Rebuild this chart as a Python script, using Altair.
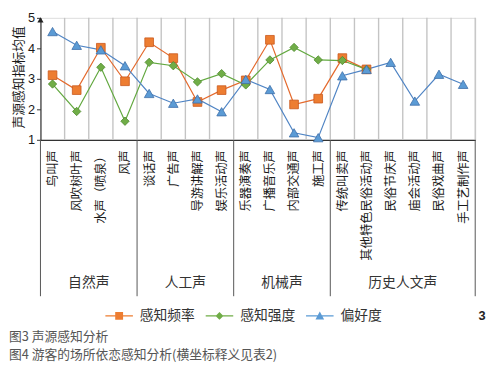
import json
import pandas as pd
import altair as alt

cats = ["鸟叫声", "风吹树叶声", "水声（喷泉）", "风声",
        "谈话声", "广告声", "导游讲解声", "娱乐活动声",
        "乐器演奏声", "广播音乐声", "内部交通声", "施工声",
        "传统叫卖声", "其他特色民俗活动声", "民俗节庆声", "庙会活动声", "民俗戏曲声", "手工艺制作声"]
freq = [3.12, 2.63, 4.02, 2.92, 4.20, 3.68, 2.24, 2.63, 2.95, 4.28, 2.16, 2.35, 3.68, 3.31,
        None, None, None, None]
strength = [2.83, 1.93, 3.38, 1.61, 3.54, 3.43, 2.90, 3.17, 2.80, 3.62, 4.03, 3.62, 3.60, 3.31,
            None, None, None, None]
pref = [4.55, 4.10, 3.95, 3.43, 2.52, 2.20, 2.34, 1.92, 2.98, 2.65, 1.23, 1.07, 3.10, 3.31,
        3.54, 2.27, 3.15, 2.82]
series = ["感知频率", "感知强度", "偏好度"]
groups = ["自然声", "人工声", "机械声", "历史人文声"]
group_sizes = [4, 4, 4, 6]
y_ticks = [1, 2, 3, 4, 5]
y_title = "声源感知指标均值"
captions = ["图3  声源感知分析", "图4  游客的场所依恋感知分析(横坐标释义见表2)"]
page_no = "3"

FONT_CJK = "Noto Sans CJK SC"
line_colors = ["#E4692C", "#62A83F", "#4F84C4"]
fill_colors = ["#ED7D31", "#70AD47", "#5B9BD5"]
edge_colors = ["#C9581C", "#4E8A2E", "#3F6FA8"]
shapes = ["square", "diamond", "triangle-up"]
sizes = [78, 72, 95]
legend_paths = [
    "M-1.75,-0.09H1.75V0.09H-1.75Z M-0.5,-0.5H0.5V0.5H-0.5Z",
    "M-1.75,-0.09H1.75V0.09H-1.75Z M0,-0.5L0.5,0L0,0.5L-0.5,0Z",
    "M-1.75,-0.09H1.75V0.09H-1.75Z M0,-0.55L0.55,0.45L-0.55,0.45Z",
]

# long data
rows = []
for name, vals in zip(series, [freq, strength, pref]):
    for i, v in enumerate(vals):
        if v is not None:
            rows.append({"series": name, "x": i + 0.5, "y": v, "cat": cats[i]})
df = pd.DataFrame(rows)

n = len(cats)
bounds = [0]
for s in group_sizes:
    bounds.append(bounds[-1] + s)
centers = [(bounds[k] + bounds[k + 1]) / 2 for k in range(len(groups))]

xscale = alt.Scale(domain=[0, n], nice=False, zero=False)
yscale = alt.Scale(domain=[1, 5], nice=False, zero=False)
label_expr = json.dumps(cats, ensure_ascii=False) + "[floor(datum.value)]"
xaxis = alt.Axis(values=[i + 0.5 for i in range(n)], labelExpr=label_expr, labelAngle=-90,
                 labelPadding=10, ticks=False, grid=False, title=None,
                 labelFont=FONT_CJK, labelFontSize=12.5, labelColor="#1a1a1a",
                 labelOverlap=False, labelFlush=False, labelBound=False,
                 domainColor="#333333", domainWidth=1.2, labelLimit=300)
yaxis = alt.Axis(values=y_ticks, grid=False, title=y_title, titleFont=FONT_CJK,
                 titleFontSize=13, titleFontWeight="normal", titleColor="#1a1a1a",
                 titleX=-22, titleY=60, titleBaseline="middle", titleAngle=-90,
                 labelFont="Liberation Sans", labelFontSize=13, labelColor="#1a1a1a",
                 tickSize=4, tickColor="#333333", labelPadding=2,
                 domainColor="#333333", domainWidth=1.2, labelFlush=False)

X = alt.X("x:Q", scale=xscale, axis=xaxis)
Y = alt.Y("y:Q", scale=yscale, axis=yaxis)

grid_df = pd.DataFrame({"x": list(range(1, n + 1)), "y": [1] * n, "y2": [5] * n})
grid = alt.Chart(grid_df).mark_rule(color="#c4c4c4", strokeWidth=1.4).encode(
    x=X, y=Y, y2=alt.Y2("y2"))

div_df = pd.DataFrame({"x": bounds})
dividers = alt.Chart(div_df).mark_rule(color="#555555", strokeWidth=1).encode(
    x=X, y=alt.value(124), y2=alt.value(283))

layers = [grid, dividers]
for k, name in enumerate(series):
    base = alt.Chart(df).transform_filter(alt.datum.series == name)
    layers.append(base.mark_line(color=line_colors[k], strokeWidth=1.2).encode(x=X, y=Y))
for k, name in enumerate(series):
    base = alt.Chart(df).transform_filter(alt.datum.series == name)
    layers.append(base.mark_point(shape=shapes[k], filled=True, size=sizes[k], opacity=1,
                                  fill=fill_colors[k], stroke=edge_colors[k],
                                  strokeWidth=0.8).encode(x=X, y=Y))

leg = dict(orient="none", legendX=72, legendY=295, direction="horizontal", title=None,
           symbolSize=256, labelFont=FONT_CJK, labelFontSize=14, labelColor="#333333",
           labelOffset=13, columnPadding=11, symbolStrokeWidth=0, padding=0)
legend_layer = alt.Chart(df).transform_filter("false").mark_point(filled=True, opacity=1).encode(
    x=X, y=Y,
    color=alt.Color("series:N", scale=alt.Scale(domain=series, range=fill_colors),
                    legend=alt.Legend(**leg)),
    shape=alt.Shape("series:N", scale=alt.Scale(domain=series, range=legend_paths),
                    legend=alt.Legend(**leg)),
)
layers.append(legend_layer)

grp_df = pd.DataFrame({"x": centers, "label": groups})
layers.append(alt.Chart(grp_df).mark_text(font=FONT_CJK, fontSize=14, color="#333333",
                                          baseline="middle").encode(
    x=X, y=alt.value(270), text="label:N"))

arrow_df = pd.DataFrame({"x": [0], "y": [5]})
layers.append(alt.Chart(arrow_df).mark_point(shape="triangle-up", filled=True, size=40,
                                            color="#222222", opacity=1).encode(
    x=X, y=Y, yOffset=alt.value(2)))

for j, cap in enumerate(captions):
    layers.append(alt.Chart(pd.DataFrame({"t": [cap]})).mark_text(
        font=FONT_CJK, fontSize=13, color="#555555", align="left", baseline="middle").encode(
        x=alt.value(-32), y=alt.value(325 + 18 * j), text="t:N"))

layers.append(alt.Chart(pd.DataFrame({"t": [page_no]})).mark_text(
    font="Liberation Sans", fontSize=13, fontWeight="bold", color="#222222",
    baseline="middle").encode(x=alt.value(449), y=alt.value(303), text="t:N"))

chart = alt.layer(*layers).properties(
    width=442, height=124,
    autosize=alt.AutoSizeParams(type="none"),
    padding={"left": 33, "top": 7, "right": 13, "bottom": 231},
).configure_view(stroke=None).configure(background="white")

chart.save("out.html", embed_options={"renderer": "svg", "actions": False})
